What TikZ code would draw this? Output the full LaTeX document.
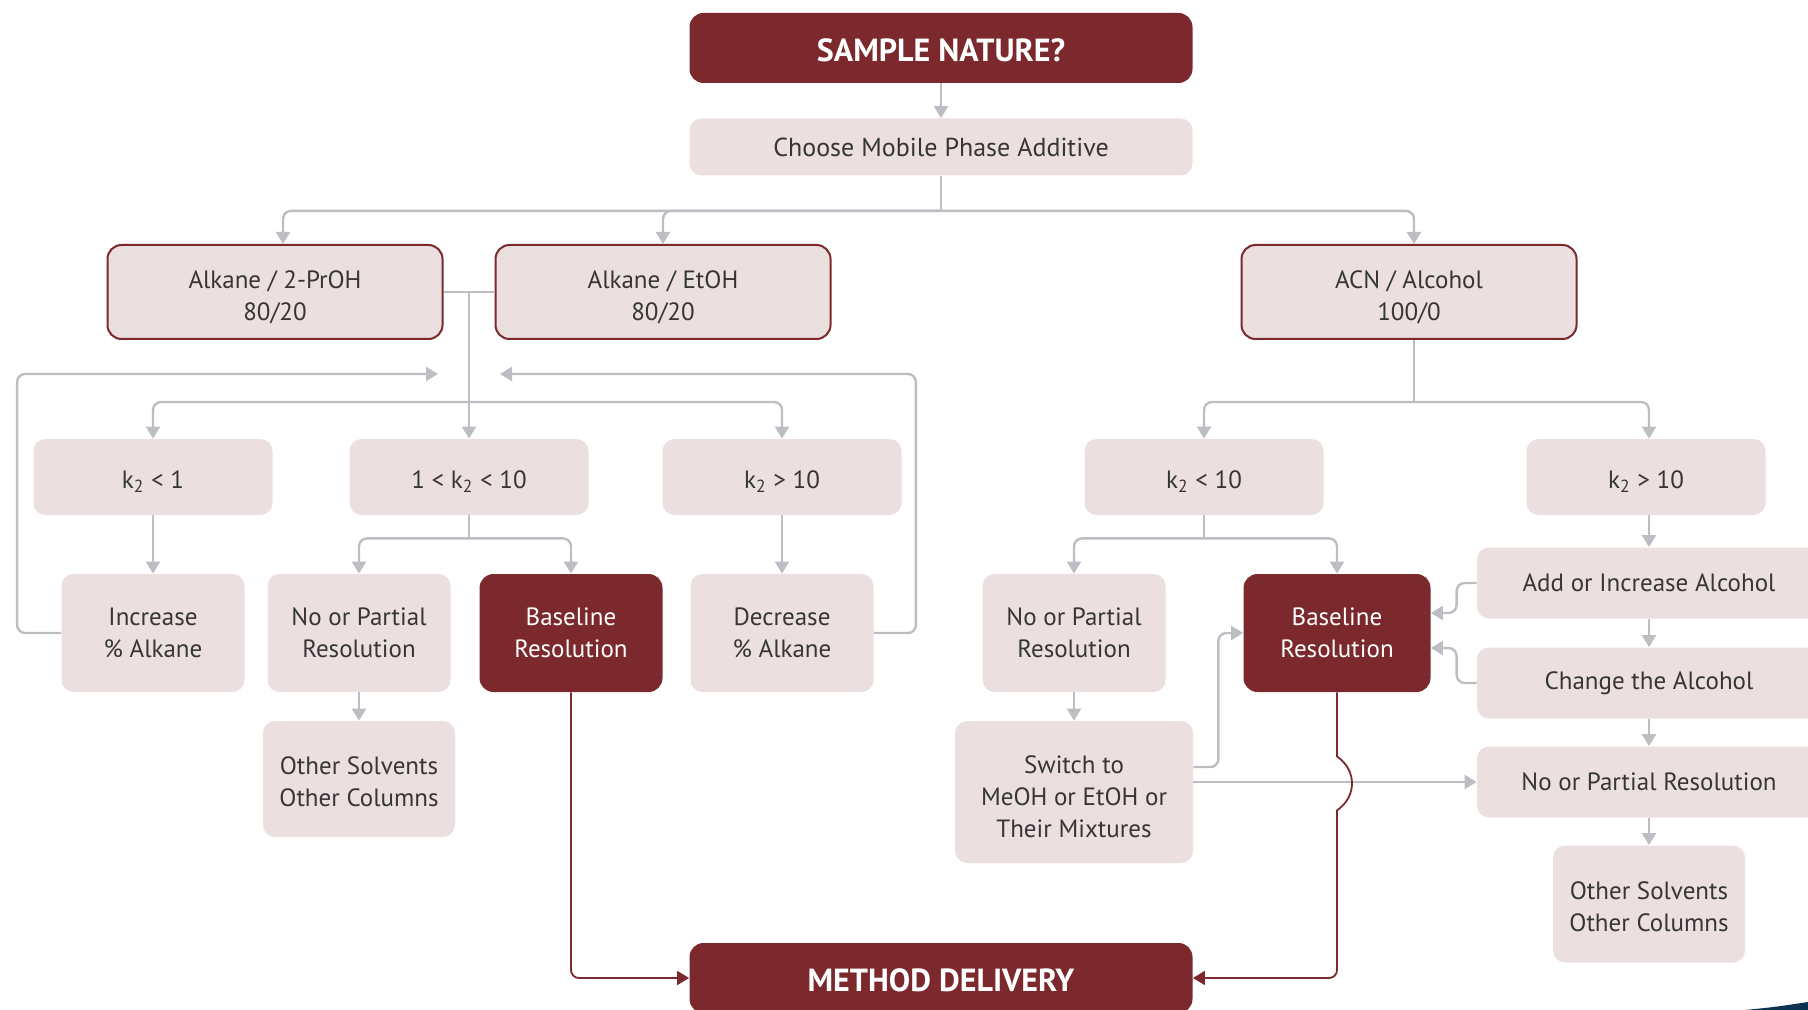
\documentclass[tikz,border=0pt]{standalone}
\usepackage{fontspec}
\setmainfont{PT Sans}
\usetikzlibrary{arrows.meta,calc}

\definecolor{wine}{HTML}{7B292C}
\definecolor{blush}{HTML}{EBDFE0}
\definecolor{wirecol}{HTML}{BDBEC3}
\definecolor{ink}{HTML}{363636}
\definecolor{navy}{HTML}{0C3250}

% invisible strut that pushes a label down a little
\newcommand{\lowr}[1]{\rule{0pt}{#1}}

\begin{document}
\begin{tikzpicture}[x=0.5pt, y=-0.5pt,
    every node/.style={anchor=center, inner sep=0pt, align=center, text=ink,
      font=\fontsize{12.5}{16}\selectfont},
    softbox/.style={fill=blush, rounded corners=6pt},
    framebox/.style={softbox, draw=wine, line width=1pt, rounded corners=7pt,
      minimum width=167.5pt, minimum height=47pt},
    darkbox/.style={fill=wine, rounded corners=7pt, text=white},
    headbox/.style={darkbox, font=\fontsize{16}{19}\selectfont\bfseries,
      minimum width=251.5pt, minimum height=35pt,
      execute at begin node={\lowr{13.8pt}}},
    kbox/.style={softbox, minimum width=119.5pt, minimum height=38pt,
      execute at begin node={\lowr{13.5pt}}},
    stepbox/.style={softbox, minimum width=91.5pt, minimum height=59pt},
    chainbox/.style={softbox, minimum width=172pt, minimum height=35.5pt},
    gline/.style={draw=wirecol, line width=1.2pt, rounded corners=4pt},
    garrow/.style={gline, -{Triangle[width=7pt,length=6pt]}},
    rarrow/.style={draw=wine, line width=0.9pt, rounded corners=4pt,
      -{Triangle[width=7pt,length=6pt]}}]
  \useasboundingbox (0,0) rectangle (1808,1010);
  \clip (0,0) rectangle (1808,1010);

  % top
  \node[headbox] (sample) at (941,48) {SAMPLE NATURE?};
  \node[softbox, minimum width=251.5pt, minimum height=28.5pt,
    font=\fontsize{13}{16}\selectfont] (choose) at (941,147) {Choose Mobile Phase Additive};
  \node[framebox] (prop) at (275,292) {\lowr{14pt}Alkane / 2-PrOH\\80/20};
  \node[framebox] (etoh) at (663,292) {\lowr{14pt}Alkane / EtOH\\80/20};
  \node[framebox] (acn) at (1409,292) {\lowr{14pt}ACN / Alcohol\\100/0};

  % left branch
  \node[kbox] (ka) at (153,477) {k\textsubscript{2} < 1};
  \node[kbox] (kb) at (469,477) {1 < k\textsubscript{2} < 10};
  \node[kbox] (kc) at (782,477) {k\textsubscript{2} > 10};
  \node[stepbox] (inc) at (153,633) {Increase\\\% Alkane};
  \node[stepbox] (npl) at (359,633) {No or Partial\\Resolution};
  \node[stepbox, darkbox] (bl) at (571,633) {Baseline\\Resolution};
  \node[stepbox] (dec) at (782,633) {Decrease\\\% Alkane};
  \node[softbox, minimum width=96pt, minimum height=58pt] (osl) at (359,779) {\lowr{12pt}Other Solvents\\Other Columns};

  % right branch
  \node[kbox] (kd) at (1204,477) {k\textsubscript{2} < 10};
  \node[kbox] (ke) at (1646,477) {k\textsubscript{2} > 10};
  \node[stepbox] (npr) at (1074,633) {No or Partial\\Resolution};
  \node[stepbox, darkbox, minimum width=93.5pt] (br) at (1337,633) {Baseline\\Resolution};
  \node[softbox, minimum width=119pt, minimum height=71pt] (sw) at (1074,792) {\lowr{14pt}Switch to\\MeOH or EtOH or\\Their Mixtures};
  \node[chainbox] (add) at (1649,583) {Add or Increase Alcohol};
  \node[chainbox] (chg) at (1649,683) {Change the Alcohol};
  \node[chainbox] (npx) at (1649,782) {No or Partial Resolution};
  \node[softbox, minimum width=96pt, minimum height=58.5pt] (osr) at (1649,904) {\lowr{12pt}Other Solvents\\Other Columns};

  \node[headbox] (md) at (941,978) {METHOD DELIVERY};

  % connectors
  \draw[garrow] (sample.south) -- (choose.north);
  \draw[gline] (choose.south) -- ++(0,35) coordinate (jc);
  \draw[garrow] (jc) -| ($(prop.north)+(8,0)$);
  \draw[garrow] (jc) -| (etoh.north);
  \draw[garrow] (jc) -| ($(acn.north)+(5,0)$);

  \coordinate (jl) at ($(prop.east)!0.5!(etoh.west)$);
  \draw[gline] (prop.east) -- (etoh.west);
  \draw[gline] (jl) -- ++(0,110) coordinate (jb);
  \draw[garrow] (jb) -- (kb.north);
  \draw[garrow] (jb) -| (ka.north);
  \draw[garrow] (jb) -| (kc.north);
  \coordinate (fl) at (438,374);
  \coordinate (fr) at (500,374);
  \draw[garrow] (inc.west) -- ++(-44,0) |- (fl);
  \draw[garrow] (dec.east) -- ++(42,0) |- (fr);
  \draw[garrow] (ka.south) -- (inc.north);
  \draw[garrow] (kc.south) -- (dec.north);
  \draw[gline] (kb.south) -- ++(0,23) coordinate (jk);
  \draw[garrow] (jk) -| (npl.north);
  \draw[garrow] (jk) -| (bl.north);
  \draw[garrow] (npl.south) -- (osl.north);
  \draw[rarrow] (bl.south) |- (md.west);

  \draw[gline] ($(acn.south)+(5,0)$) -- ++(0,62) coordinate (ja);
  \draw[garrow] (ja) -| (kd.north);
  \draw[garrow] (ja) -| (add.north |- ke.north);
  \draw[gline] (kd.south) -- ++(0,23) coordinate (jd);
  \draw[garrow] (jd) -| (npr.north);
  \draw[garrow] (jd) -| (br.north);
  \draw[garrow] (npr.south) -- (sw.north);
  \draw[garrow] ($(sw.east)+(0,-25)$) -- ++(25,0) |- (br.west);
  \draw[garrow] (sw.east |- npx.west) -- (npx.west);
  \draw[garrow] (add.north |- ke.south) -- (add.north);
  \draw[garrow] (add.south) -- (chg.north);
  \draw[garrow] (chg.south) -- (npx.north);
  \draw[garrow] (npx.south) -- (osr.north);
  \draw[garrow] (add.west) -- ++(-20,0) |- ($(br.east)+(0,-20)$);
  \draw[garrow] (chg.west) -- ++(-20,0) |- ($(br.east)+(0,15)$);
  \draw[rarrow, sharp corners] (br.south) -- ++(0,64)
    .. controls +(20,14) and +(20,-14) .. ++(0,54)
    [rounded corners=4pt] |- (md.east);

  % corner mark
  \fill[navy] (1745,1010) .. controls (1775,1007) .. (1808,1002) -- (1808,1010) -- cycle;
\end{tikzpicture}
\end{document}
